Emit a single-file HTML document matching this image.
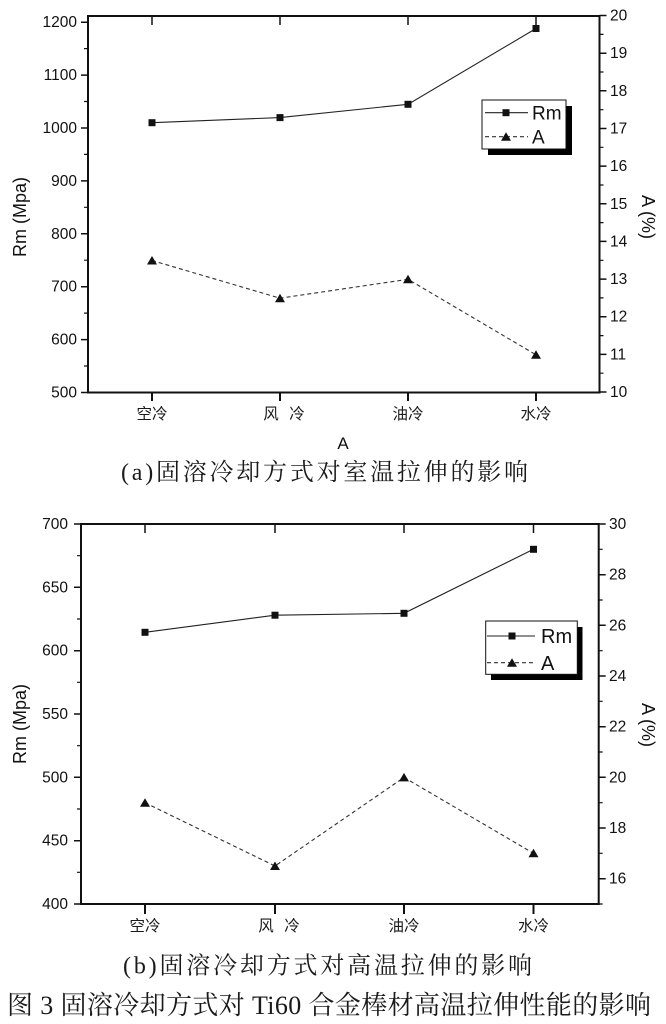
<!DOCTYPE html>
<html><head><meta charset="utf-8"><style>
html,body{margin:0;padding:0;background:#fff;}
svg{display:block;}
.t{font-family:"Liberation Sans",Arial,sans-serif;font-size:15.5px;fill:#111;}
.cat{font-family:"Liberation Sans","Noto Sans CJK SC",sans-serif;font-size:15.5px;fill:#1a1a1a;}
.ttl{font-family:"Liberation Sans",Arial,sans-serif;font-size:18px;fill:#111;}
.leg{font-family:"Liberation Sans",Arial,sans-serif;font-size:19px;fill:#111;}
.cap{font-family:"Liberation Serif","Noto Serif CJK SC",serif;fill:#1a1a1a;}
</style></head><body>
<svg width="666" height="1024" viewBox="0 0 666 1024" xmlns="http://www.w3.org/2000/svg">
<rect width="666" height="1024" fill="#fff"/>

<!-- ============ Chart (a) ============ -->
<g stroke="#111" fill="none">
  <rect x="88" y="16" width="511.5" height="376.5" stroke-width="2"/>
  <path stroke-width="1.5" d="M81 392.5H88 M81 339.6H88 M81 286.7H88 M81 233.8H88 M81 180.9H88 M81 128H88 M81 75.1H88 M81 22.2H88"/>
  <path stroke-width="1.2" d="M84 366H88 M84 313.1H88 M84 260.2H88 M84 207.3H88 M84 154.4H88 M84 101.5H88 M84 48.6H88"/>
  <path stroke-width="1.5" d="M599.5 392H606.5 M599.5 354.4H606.5 M599.5 316.7H606.5 M599.5 279.1H606.5 M599.5 241.4H606.5 M599.5 203.8H606.5 M599.5 166.1H606.5 M599.5 128.5H606.5 M599.5 90.8H606.5 M599.5 53.2H606.5 M599.5 15.5H606.5"/>
  <path stroke-width="1.2" d="M599.5 373.2H603.5 M599.5 335.6H603.5 M599.5 297.9H603.5 M599.5 260.3H603.5 M599.5 222.6H603.5 M599.5 185H603.5 M599.5 147.3H603.5 M599.5 109.7H603.5 M599.5 72H603.5 M599.5 34.4H603.5"/>
  <path stroke-width="2" d="M152 392.5V401 M280 392.5V401 M408 392.5V401 M536 392.5V401"/>
  <path stroke-width="1.5" d="M152 16V25 M280 16V25 M408 16V25 M536 16V25"/>
</g>
<g class="t" text-anchor="end">
  <text x="77" y="397.5">500</text><text x="77" y="344.6">600</text><text x="77" y="291.7">700</text>
  <text x="77" y="238.8">800</text><text x="77" y="185.9">900</text><text x="77" y="133">1000</text>
  <text x="77" y="80.1">1100</text><text x="77" y="27.2">1200</text>
</g>
<g class="t">
  <text x="610" y="397">10</text><text x="610" y="359.4">11</text><text x="610" y="321.7">12</text>
  <text x="610" y="284.1">13</text><text x="610" y="246.4">14</text><text x="610" y="208.8">15</text>
  <text x="610" y="171.1">16</text><text x="610" y="133.5">17</text><text x="610" y="95.8">18</text>
  <text x="610" y="58.2">19</text><text x="610" y="20.5">20</text>
</g>
<text class="ttl" transform="translate(26,217) rotate(-90)" text-anchor="middle">Rm (Mpa)</text>
<text class="ttl" transform="translate(642,217) rotate(90)" text-anchor="middle">A (%)</text>
<text class="ttl" x="343" y="449" text-anchor="middle" style="font-size:17px">A</text>
<g class="cat" text-anchor="middle">
  <text x="152" y="419">空冷</text>
  <text x="271" y="419">风</text><text x="297" y="419">冷</text>
  <text x="408" y="419">油冷</text>
  <text x="536" y="419">水冷</text>
</g>
<polyline points="152,122.7 280,117.6 408,104.3 536,28.5" fill="none" stroke="#222" stroke-width="1.1"/>
<polyline points="152,260.5 280,298.2 408,279.3 536,354.8" fill="none" stroke="#333" stroke-width="1.1" stroke-dasharray="4,3"/>
<g fill="#111">
  <rect x="148.5" y="119.2" width="7" height="7"/><rect x="276.5" y="114.1" width="7" height="7"/>
  <rect x="404.5" y="100.8" width="7" height="7"/><rect x="532.5" y="25" width="7" height="7"/>
  <path d="M152 256 L157 264.5 L147 264.5Z M280 293.7 L285 302.2 L275 302.2Z M408 274.8 L413 283.3 L403 283.3Z M536 350.3 L541 358.8 L531 358.8Z"/>
</g>
<rect x="488" y="106" width="84" height="49" fill="#000"/>
<rect x="482" y="100" width="84" height="49" fill="#fff" stroke="#111" stroke-width="1"/>
<path d="M485 112.7H528" stroke="#222" stroke-width="1.1"/>
<rect x="502.5" y="109.2" width="7" height="7" fill="#111"/>
<path d="M485 136.7H528" stroke="#333" stroke-width="1.1" stroke-dasharray="4,3"/>
<path d="M506 132.2 L511 140.7 L501 140.7Z" fill="#111"/>
<text class="leg" x="532" y="119.5">Rm</text>
<text class="leg" x="532" y="143.5">A</text>

<text class="cap" x="121" y="480" textLength="407" lengthAdjust="spacing" style="font-size:24px">(a)固溶冷却方式对室温拉伸的影响</text>

<!-- ============ Chart (b) ============ -->
<g stroke="#111" fill="none">
  <rect x="81" y="524" width="517.7" height="380" stroke-width="2"/>
  <path stroke-width="1.5" d="M74 904H81 M74 840.7H81 M74 777.3H81 M74 714H81 M74 650.7H81 M74 587.3H81 M74 524H81"/>
  <path stroke-width="1.2" d="M77 872.3H81 M77 809H81 M77 745.7H81 M77 682.3H81 M77 619H81 M77 555.7H81"/>
  <path stroke-width="1.5" d="M598.7 878.7H605.7 M598.7 828H605.7 M598.7 777.3H605.7 M598.7 726.7H605.7 M598.7 676H605.7 M598.7 625.3H605.7 M598.7 574.7H605.7 M598.7 524H605.7"/>
  <path stroke-width="1.2" d="M598.7 904H602.7 M598.7 853.3H602.7 M598.7 802.7H602.7 M598.7 752H602.7 M598.7 701.3H602.7 M598.7 650.7H602.7 M598.7 600H602.7 M598.7 549.3H602.7"/>
  <path stroke-width="2" d="M145 904V914 M275 904V914 M404 904V914 M533.5 904V914"/>
  <path stroke-width="1.5" d="M145 524V533 M275 524V533 M404 524V533 M533.5 524V533"/>
</g>
<g class="t" text-anchor="end">
  <text x="68" y="909">400</text><text x="68" y="845.7">450</text><text x="68" y="782.3">500</text>
  <text x="68" y="719">550</text><text x="68" y="655.7">600</text><text x="68" y="592.3">650</text>
  <text x="68" y="529">700</text>
</g>
<g class="t">
  <text x="609" y="883.7">16</text><text x="609" y="833">18</text><text x="609" y="782.3">20</text>
  <text x="609" y="731.7">22</text><text x="609" y="681">24</text><text x="609" y="630.3">26</text>
  <text x="609" y="579.7">28</text><text x="609" y="529">30</text>
</g>
<text class="ttl" transform="translate(26,724) rotate(-90)" text-anchor="middle">Rm (Mpa)</text>
<text class="ttl" transform="translate(642,725) rotate(90)" text-anchor="middle">A (%)</text>
<g class="cat" text-anchor="middle">
  <text x="145" y="931">空冷</text>
  <text x="266" y="931">风</text><text x="292" y="931">冷</text>
  <text x="404" y="931">油冷</text>
  <text x="533.5" y="931">水冷</text>
</g>
<polyline points="145,632.3 275,615.2 404,613.3 533.5,549.3" fill="none" stroke="#222" stroke-width="1.1"/>
<polyline points="145,802.7 275,866 404,777.4 533.5,853.3" fill="none" stroke="#333" stroke-width="1.1" stroke-dasharray="4,3"/>
<g fill="#111">
  <rect x="141.5" y="628.8" width="7" height="7"/><rect x="271.5" y="611.7" width="7" height="7"/>
  <rect x="400.5" y="609.8" width="7" height="7"/><rect x="530" y="545.8" width="7" height="7"/>
  <path d="M145 798.2 L150 806.7 L140 806.7Z M275 861.5 L280 870 L270 870Z M404 772.9 L409 781.4 L399 781.4Z M533.5 848.8 L538.5 857.3 L528.5 857.3Z"/>
</g>
<rect x="491" y="627" width="91.5" height="53" fill="#000"/>
<rect x="485.7" y="621" width="91.6" height="53.3" fill="#fff" stroke="#111" stroke-width="1"/>
<path d="M487 636H535" stroke="#222" stroke-width="1.1"/>
<rect x="508.5" y="632.5" width="7" height="7" fill="#111"/>
<path d="M487 662.7H535" stroke="#333" stroke-width="1.1" stroke-dasharray="4,3"/>
<path d="M512 658.2 L517 666.7 L507 666.7Z" fill="#111"/>
<text class="leg" x="541" y="643" style="font-size:20px">Rm</text>
<text class="leg" x="541" y="670" style="font-size:20px">A</text>

<text class="cap" x="123" y="973.5" textLength="409" lengthAdjust="spacing" style="font-size:24px">(b)固溶冷却方式对高温拉伸的影响</text>
<text class="cap" x="7" y="1014" textLength="644" lengthAdjust="spacing" style="font-size:26px">图 3 固溶冷却方式对 Ti60 合金棒材高温拉伸性能的影响</text>
</svg>
</body></html>
